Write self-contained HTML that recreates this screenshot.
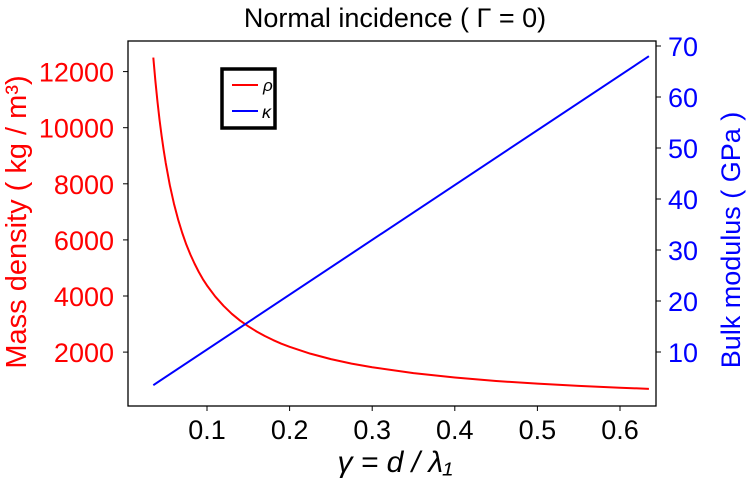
<!DOCTYPE html>
<html><head><meta charset="utf-8"><style>
body{margin:0;background:#fff;width:750px;height:481px;overflow:hidden}
svg text{font-family:"Liberation Sans",sans-serif}
</style></head><body>
<svg id="c" width="750" height="481"></svg>
<script>
const xTicks=[0.1,0.2,0.3,0.4,0.5,0.6];
const leftTicks=[2000,4000,6000,8000,10000,12000];
const rightTicks=[10,20,30,40,50,60,70];
const gammaVals=[0.035,0.0375,0.04,0.0425,0.045,0.0475,0.05,0.055,0.06,0.065,0.07,0.075,0.08,0.085,0.09,0.095,0.1,0.11,0.12,0.13,0.14,0.15,0.16,0.17,0.18,0.19,0.2,0.225,0.25,0.275,0.3,0.35,0.4,0.45,0.5,0.55,0.6,0.635];
const rhoVals=[12500,11670,10940,10290,9720,9210,8750,7950,7290,6730,6250,5830,5470,5150,4860,4600,4375,3980,3650,3365,3125,2920,2735,2575,2430,2300,2190,1945,1750,1590,1460,1250,1095,970,875,795,730,690];
const kGamma=[0.035,0.635];
const kappaVals=[3.5,68];
const NS="http://www.w3.org/2000/svg";
const svg=document.getElementById('c');
const X=v=>124.4+v*826;
const YL=v=>408.2-v*0.02805;
const YR=v=>403-v*5.1;
function el(t,a,txt){const e=document.createElementNS(NS,t);for(const k in a)e.setAttribute(k,a[k]);if(txt!==undefined)e.textContent=txt;svg.appendChild(e);return e;}
let e;
e=el('rect',{x:128,y:41,width:528,height:365,fill:'none',stroke:'#000','stroke-width':1.3});

xTicks.forEach(t=>{
 e=el('line',{x1:X(t),x2:X(t),y1:406,y2:411,stroke:'#000'});
 
 e=el('text',{x:X(t),y:439,'font-size':27,'text-anchor':'middle',fill:'#000'},t.toFixed(1));
 
});
leftTicks.forEach(t=>{
 e=el('line',{x1:123,x2:128,y1:YL(t),y2:YL(t),stroke:'#000'});
 
 e=el('text',{x:114,y:YL(t)+10,'font-size':27,'text-anchor':'end',fill:'#f00'},t);
 
});
rightTicks.forEach(t=>{
 e=el('line',{x1:656,x2:661,y1:YR(t),y2:YR(t),stroke:'#000'});
 
 e=el('text',{x:668,y:YR(t)+10,'font-size':27,fill:'#00f'},t);
 
});
e=el('path',{d:gammaVals.map((g,i)=>(i?'L':'M')+X(g)+','+YL(rhoVals[i])).join(''),fill:'none',stroke:'#f00','stroke-width':2,'stroke-linejoin':'round'});

e=el('path',{d:kGamma.map((g,i)=>(i?'L':'M')+X(g)+','+YR(kappaVals[i])).join(''),fill:'none',stroke:'#00f','stroke-width':2});

e=el('rect',{x:222,y:69,width:53,height:59,fill:'#fff',stroke:'#000','stroke-width':3.5});

e=el('line',{x1:232,x2:258,y1:85,y2:85,stroke:'#f00','stroke-width':2});

e=el('text',{x:263,y:91,'font-size':17,'font-style':'italic'},'ρ');

e=el('line',{x1:232,x2:258,y1:111,y2:111,stroke:'#00f','stroke-width':2});

e=el('text',{x:262,y:118,'font-size':18,'font-style':'italic'},'κ');

e=el('text',{x:395,y:27,'font-size':27,'text-anchor':'middle'},'Normal incidence ( Γ = 0)');

e=el('text',{x:395,y:472,'font-size':30,'text-anchor':'middle','font-family':'Liberation Serif,serif','font-style':'italic'},'γ = d / λ₁');

e=el('text',{x:0,y:0,'font-size':29,'text-anchor':'middle',fill:'#f00',transform:'translate(26,222) rotate(-90)'},'Mass density ( kg / m³)');

e=el('text',{x:0,y:0,'font-size':27,'text-anchor':'middle',fill:'#00f',transform:'translate(740,240) rotate(-90)'},'Bulk modulus ( GPa )');

</script>
</body></html>
